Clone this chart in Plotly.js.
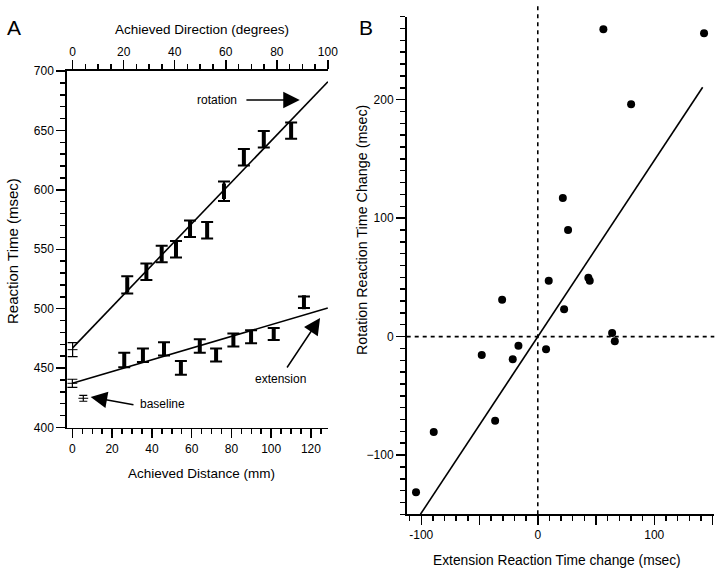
<!DOCTYPE html>
<html>
<head>
<meta charset="utf-8">
<script src="https://cdn.plot.ly/plotly-3.0.1.min.js"></script>
<style>html,body{margin:0;padding:0;background:#fff}#chart{width:720px;height:570px}</style>
</head>
<body>
<div id="chart"></div>
<script>
// ---------- Panel A data ----------
// Rotation condition: achieved direction (degrees) vs reaction time (msec)
const rotDir   = [21.4, 28.9, 34.9, 40.5, 46.0, 52.7, 59.3, 67.1, 74.9, 85.6];
const rotRT    = [520.0, 531.1, 546.0, 550.0, 567.3, 566.0, 598.8, 627.4, 642.6, 649.8];
const rotErr   = [7.3, 7.0, 7.0, 7.0, 6.9, 6.9, 8.3, 7.0, 6.9, 6.9];
// Rotation at zero direction
const rot0Dir  = [0];
const rot0RT   = [465.5];
const rot0Err  = [5.9];
// Extension condition: achieved distance (mm) vs reaction time (msec)
const extDist  = [26.1, 35.5, 46.1, 54.6, 64.1, 72.3, 81.0, 89.9, 101.3, 116.5];
const extRT    = [456.8, 460.8, 466.1, 450.1, 468.6, 461.0, 473.7, 476.4, 478.7, 505.4];
const extErr   = [6.0, 5.6, 5.6, 5.8, 5.6, 5.5, 5.5, 5.5, 5.0, 4.8];
// Extension at zero distance
const ext0Dist = [0];
const ext0RT   = [437.2];
const ext0Err  = [3.4];
// Baseline
const baseDist = [5.5];
const baseRT   = [424.6];
const baseErr  = [2.5];
// Regression lines
const rotFitDir  = [0, 100];
const rotFitRT   = [467, 691];
const extFitDist = [0, 128.5];
const extFitRT   = [437.2, 500.6];
// Tick labels
const distTicks = [0, 20, 40, 60, 80, 100, 120];
const dirTicks  = [0, 20, 40, 60, 80, 100];
const rtTicks   = [400, 450, 500, 550, 600, 650, 700];

// ---------- Panel B data ----------
const extChange = [56.3, 142.7, 80.1, 21.5, 26.0, 9.4, 43.4, 44.6, -30.6, 22.6, 63.8, 66.1, -16.6, 7.1, -48.1, -21.5, -36.6, -89.3, -104.5];
const rotChange = [259.4, 256.0, 196.1, 117.0, 90.0, 47.2, 49.7, 47.2, 31.1, 23.0, 3.0, -4.0, -7.7, -10.7, -15.5, -19.2, -71.0, -80.5, -131.4];
const fitBx = [-100.7, 141.5];
const fitBy = [-150, 210.5];
const bXTicks = [-100, -50, 0, 50, 100, 150];
const bXLabels = ['-100', '', '0', '', '100', ''];
const bYTicks = [-100, 0, 100, 200];

// ---------- helpers (pixel -> paper) ----------
const W = 720, H = 570;
const px = x => x / W;
const py = y => 1 - y / H;
const FONT = 'Liberation Sans, Arial, Helvetica, sans-serif';

const traces = [
  // Panel A regression lines
  {x: rotFitDir, y: rotFitRT, xaxis: 'x2', yaxis: 'y', mode: 'lines',
   line: {color: '#000', width: 1.6}, hoverinfo: 'skip'},
  {x: extFitDist, y: extFitRT, xaxis: 'x', yaxis: 'y', mode: 'lines',
   line: {color: '#000', width: 1.6}, hoverinfo: 'skip'},
  // rotation points
  {x: rotDir, y: rotRT, xaxis: 'x2', yaxis: 'y', mode: 'markers',
   marker: {symbol: 'line-ns', size: 11, line: {color: '#000', width: 4}},
   error_y: {type: 'data', array: rotErr, visible: true, color: '#000', thickness: 2, width: 6}},
  {x: rot0Dir, y: rot0RT, xaxis: 'x2', yaxis: 'y', mode: 'markers',
   marker: {symbol: 'line-ew', size: 7, line: {color: '#000', width: 1}},
   error_y: {type: 'data', array: rot0Err, visible: true, color: '#000', thickness: 1.2, width: 5}},
  // extension points
  {x: extDist, y: extRT, xaxis: 'x', yaxis: 'y', mode: 'markers',
   marker: {symbol: 'line-ns', size: 10, line: {color: '#000', width: 4}},
   error_y: {type: 'data', array: extErr, visible: true, color: '#000', thickness: 2, width: 6}},
  {x: ext0Dist, y: ext0RT, xaxis: 'x', yaxis: 'y', mode: 'markers',
   marker: {symbol: 'line-ew', size: 7, line: {color: '#000', width: 1}},
   error_y: {type: 'data', array: ext0Err, visible: true, color: '#000', thickness: 1.2, width: 5}},
  {x: baseDist, y: baseRT, xaxis: 'x', yaxis: 'y', mode: 'markers',
   marker: {symbol: 'line-ew', size: 7, line: {color: '#000', width: 1}},
   error_y: {type: 'data', array: baseErr, visible: true, color: '#000', thickness: 1.2, width: 4}},
  // Panel B
  {x: fitBx, y: fitBy, xaxis: 'x3', yaxis: 'y3', mode: 'lines',
   line: {color: '#000', width: 1.6}, hoverinfo: 'skip'},
  {x: extChange, y: rotChange, xaxis: 'x3', yaxis: 'y3', mode: 'markers',
   marker: {symbol: 'circle', size: 8, color: '#000'}}
];

const axBase = {
  showgrid: false, zeroline: false, showline: true, linecolor: '#000', linewidth: 1.7,
  ticks: 'outside', ticklen: 9, tickwidth: 1.5, tickcolor: '#000',
  tickfont: {family: FONT, size: 12, color: '#000'}, fixedrange: true
};

const layout = {
  width: W, height: H,
  margin: {l: 0, r: 0, t: 0, b: 0},
  paper_bgcolor: '#fff', plot_bgcolor: '#fff',
  showlegend: false,
  font: {family: FONT, color: '#000'},
  xaxis: Object.assign({}, axBase, {
    domain: [px(67), px(328)], range: [-2.7, 128.6], anchor: 'y',
    tickvals: distTicks,
    minor: {dtick: 5, tick0: 0, ticks: 'outside', ticklen: 5, tickwidth: 1.5, tickcolor: '#000'}
  }),
  xaxis2: Object.assign({}, axBase, {
    domain: [px(67), px(328)], range: [-2.2, 100.05], anchor: 'y', overlaying: 'x', side: 'top',
    tickvals: dirTicks,
    minor: {dtick: 5, tick0: 0, ticks: 'outside', ticklen: 5, tickwidth: 1.5, tickcolor: '#000'}
  }),
  yaxis: Object.assign({}, axBase, {
    domain: [py(427.5), py(71)], range: [400, 700], anchor: 'x',
    tickvals: rtTicks,
    minor: {dtick: 10, tick0: 400, ticks: 'outside', ticklen: 5, tickwidth: 1.5, tickcolor: '#000'}
  }),
  xaxis3: Object.assign({}, axBase, {
    domain: [px(406.7), px(714.3)], range: [-112.5, 151.5], anchor: 'y3',
    tickvals: bXTicks, ticktext: bXLabels,
    minor: {dtick: 10, tick0: 0, ticks: 'outside', ticklen: 5, tickwidth: 1.5, tickcolor: '#000'}
  }),
  yaxis3: Object.assign({}, axBase, {
    domain: [py(514.3), py(16.7)], range: [-150, 270], anchor: 'x3',
    tickvals: bYTicks,
    minor: {dtick: 10, tick0: 0, ticks: 'outside', ticklen: 5, tickwidth: 1.5, tickcolor: '#000'}
  }),
  shapes: [
    // Panel B dashed zero lines
    {type: 'line', xref: 'x3', yref: 'paper', x0: 0, x1: 0, y0: py(514.3), y1: py(3),
     line: {color: '#000', width: 1.6, dash: '4px,4px'}},
    {type: 'line', xref: 'paper', yref: 'y3', x0: px(406.7), x1: px(714.3), y0: 0, y1: 0,
     line: {color: '#000', width: 1.6, dash: '4px,4px'}}
  ],
  annotations: [
    // panel letters
    {text: 'A', xref: 'paper', yref: 'paper', x: px(14), y: py(27), showarrow: false,
     font: {family: FONT, size: 21, color: '#000'}, xanchor: 'center', yanchor: 'middle'},
    {text: 'B', xref: 'paper', yref: 'paper', x: px(366), y: py(27), showarrow: false,
     font: {family: FONT, size: 21, color: '#000'}, xanchor: 'center', yanchor: 'middle'},
    // axis titles
    {text: 'Achieved Direction (degrees)', xref: 'paper', yref: 'paper', x: px(202), y: py(30),
     showarrow: false, font: {family: FONT, size: 13.5}, xanchor: 'center', yanchor: 'middle'},
    {text: 'Achieved Distance (mm)', xref: 'paper', yref: 'paper', x: px(201), y: py(473),
     showarrow: false, font: {family: FONT, size: 13.5}, xanchor: 'center', yanchor: 'middle'},
    {text: 'Reaction Time (msec)', xref: 'paper', yref: 'paper', x: px(12), y: py(251), textangle: -90,
     showarrow: false, font: {family: FONT, size: 15}, xanchor: 'center', yanchor: 'middle'},
    {text: 'Extension Reaction Time change (msec)', xref: 'paper', yref: 'paper', x: px(557), y: py(560),
     showarrow: false, font: {family: FONT, size: 13.8}, xanchor: 'center', yanchor: 'middle'},
    {text: 'Rotation Reaction Time Change (msec)', xref: 'paper', yref: 'paper', x: px(362), y: py(230), textangle: -90,
     showarrow: false, font: {family: FONT, size: 14.3}, xanchor: 'center', yanchor: 'middle'},
    // Panel A labels with arrows
    {text: 'rotation', xref: 'paper', yref: 'paper', x: px(217), y: py(100), showarrow: false,
     font: {family: FONT, size: 12}, xanchor: 'center', yanchor: 'middle'},
    {text: '', xref: 'x', yref: 'y', x: 114.4, y: 675.5, axref: 'x', ayref: 'y', ax: 86.8, ay: 675.5,
     showarrow: true, arrowhead: 2, arrowsize: 2.2, arrowwidth: 1.5, arrowcolor: '#000'},
    {text: 'extension', xref: 'paper', yref: 'paper', x: px(280), y: py(379), showarrow: false,
     font: {family: FONT, size: 12}, xanchor: 'center', yanchor: 'middle'},
    {text: '', xref: 'x', yref: 'y', x: 124.6, y: 492.2, axref: 'x', ayref: 'y', ax: 107.5, ay: 449.2,
     showarrow: true, arrowhead: 2, arrowsize: 2.2, arrowwidth: 1.5, arrowcolor: '#000'},
    {text: 'baseline', xref: 'paper', yref: 'paper', x: px(162), y: py(404), showarrow: false,
     font: {family: FONT, size: 12}, xanchor: 'center', yanchor: 'middle'},
    {text: '', xref: 'x', yref: 'y', x: 9.2, y: 425.7, axref: 'x', ayref: 'y', ax: 31.5, ay: 419.0,
     showarrow: true, arrowhead: 2, arrowsize: 2.2, arrowwidth: 1.5, arrowcolor: '#000'}
  ]
};

Plotly.newPlot('chart', traces, layout, {displayModeBar: false, staticPlot: true});
</script>
</body>
</html>
